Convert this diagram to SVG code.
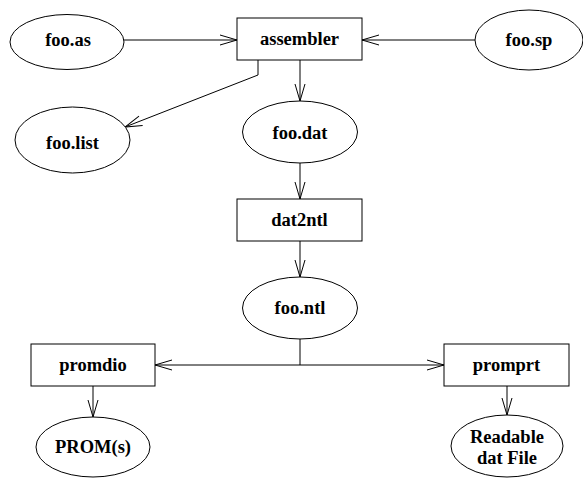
<svg xmlns="http://www.w3.org/2000/svg" width="583" height="478" viewBox="0 0 583 478">
<style>
.n{fill:#fff;stroke:#000;stroke-width:1}
.t{font-family:"Liberation Serif","Times New Roman",serif;font-weight:bold;font-size:18.5px;text-anchor:middle;fill:#000}
.c{fill:none;stroke:#000;stroke-width:1}
</style>
<defs>
<marker id="a" markerUnits="userSpaceOnUse" markerWidth="20" markerHeight="12" refX="17" refY="5" orient="auto" overflow="visible">
<path d="M0,0 L17,5 L0,10" fill="none" stroke="#000" stroke-width="1"/>
</marker>
</defs>
<rect width="583" height="478" fill="#fff"/>
<g id="connectors">
<path class="c" d="M124,40 H237" marker-end="url(#a)"/>
<path class="c" d="M475,40 H362" marker-end="url(#a)"/>
<path class="c" d="M258,60 V75 L125,127" marker-end="url(#a)"/>
<path class="c" d="M300,60 V101" marker-end="url(#a)"/>
<path class="c" d="M300,163 V199" marker-end="url(#a)"/>
<path class="c" d="M300,241 V277" marker-end="url(#a)"/>
<path class="c" d="M300,339 V365 H155" marker-end="url(#a)"/>
<path class="c" d="M300,365 H444" marker-end="url(#a)"/>
<path class="c" d="M93,386 V417" marker-end="url(#a)"/>
<path class="c" d="M507,386 V415" marker-end="url(#a)"/>
</g>
<g id="foo_as"><ellipse class="n" cx="67" cy="42" rx="57" ry="27.5"/><text class="t" x="68" y="46">foo.as</text></g>
<g id="assembler"><rect class="n" x="237" y="18" width="125" height="42"/><text class="t" x="299.5" y="45">assembler</text></g>
<g id="foo_sp"><ellipse class="n" cx="529" cy="40" rx="54" ry="30"/><text class="t" x="529" y="46">foo.sp</text></g>
<g id="foo_list"><ellipse class="n" cx="72.5" cy="140" rx="57.5" ry="33"/><text class="t" x="72.5" y="149">foo.list</text></g>
<g id="foo_dat"><ellipse class="n" cx="300" cy="132" rx="57.5" ry="31"/><text class="t" x="300" y="139">foo.dat</text></g>
<g id="dat2ntl"><rect class="n" x="237" y="199" width="125" height="42"/><text class="t" x="299.5" y="226">dat2ntl</text></g>
<g id="foo_ntl"><ellipse class="n" cx="300" cy="308" rx="57.5" ry="31"/><text class="t" x="300" y="314">foo.ntl</text></g>
<g id="promdio"><rect class="n" x="31" y="344" width="124" height="42"/><text class="t" x="93" y="371">promdio</text></g>
<g id="promprt"><rect class="n" x="444" y="344" width="125" height="42"/><text class="t" x="506.5" y="371">promprt</text></g>
<g id="proms"><ellipse class="n" cx="93" cy="447" rx="57" ry="30"/><text class="t" x="93" y="453">PROM(s)</text></g>
<g id="readable"><ellipse class="n" cx="507" cy="446" rx="56" ry="31"/><text class="t" x="507" y="443">Readable</text><text class="t" x="507" y="464">dat File</text></g>
</svg>
